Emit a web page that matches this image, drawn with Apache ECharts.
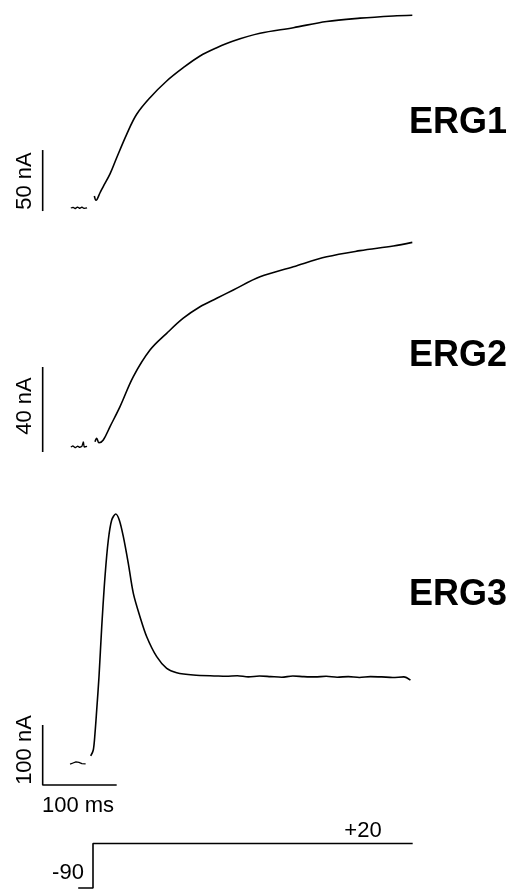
<!DOCTYPE html>
<html>
<head>
<meta charset="utf-8">
<script src="https://cdn.jsdelivr.net/npm/echarts@6/dist/echarts.min.js"></script>
<style>
    html, body { margin: 0; padding: 0; background: #fff; }
    #chart { width: 520px; height: 890px; }
</style>
</head>
<body>
<div id="chart"></div>
<script>
// time in ms (step onset = 0), current in nA, voltage in mV
var erg1BaseT = [-30, -27, -24, -21, -18, -15, -12, -8];
var erg1BaseI = [0, 0.6, -0.5, 0.8, -0.3, 0.7, -0.4, 0.2];
var erg1T = [1.8, 4.1, 9.5, 13.5, 23, 32, 45.5, 59, 77, 99.6, 122, 144.6, 167.2, 189.6, 225.7, 270.7, 315.8, 360.8, 405.8, 431.5];
var erg1I = [9.8, 6.3, 12.5, 17.2, 27.9, 41.2, 60.4, 76.8, 90.4, 104.1, 115, 124.6, 131.4, 136.9, 143.2, 147.8, 152.9, 155.6, 157.4, 158];

var erg2BaseT = [-30, -27, -24, -21, -18, -15, -13, -12, -8];
var erg2BaseI = [0, 0.5, -0.4, 0.4, -0.2, 0.3, 2.5, 0, 0.3];
var erg2T = [2.7, 5, 8.1, 13.9, 23, 36.5, 54.5, 77, 99.6, 122, 144.6, 167.2, 189.6, 225.7, 270.7, 315.8, 360.8, 405.8, 431.5];
var erg2I = [2.5, 4.1, 2.0, 3.3, 9.6, 19, 33.1, 45.6, 53.5, 60.6, 66, 70, 73.9, 80.1, 84.8, 89.5, 92.4, 94.6, 96.3];

var erg3BaseT = [-31, -27, -23, -19, -15, -10];
var erg3BaseI = [-2, 0, 2, 1, -1, -1.5];
var erg3T = [-3.1, 0.4, 2.7, 5, 8.1, 11.8, 16.2, 20.7, 25.3, 30.7, 35.5, 41, 47.7, 54.5, 63.5, 72.6, 86.1, 99.6, 113.1, 135.5, 167.2,
    180, 195, 210, 225, 240, 255, 270, 285, 300, 315, 330, 345, 360, 375, 390, 405, 420, 429];
var erg3I = [11.7, 21.7, 49.5, 88.3, 143.8, 227.2, 310.5, 371.7, 405, 415, 405, 377.2, 332.8, 282.8, 243.8, 210.5, 177.2, 157.8, 150.5, 146.7, 145,
    144.5, 145.5, 143.5, 145, 144, 143, 145, 144, 143.5, 144.5, 143, 144, 142.5, 144, 143.5, 142.5, 143.5, 138];

var stepT = [-20, 0, 0, 432];
var stepV = [-90, -90, 20, 20];

var panelNames = ['ERG1', 'ERG2', 'ERG3'];
var scaleNA = [50, 40, 100];
var scaleFloorNA = [-2.5, -2.4, -36.7];
var scaleMs = 100;
var scaleT0 = -68;

var zip = function(t, v) {
    var out = [];
    for (var i = 0; i < t.length; i++) {
        out.push([t[i], v[i]]);
    }
    return out;
};

var line = function(idx, data, w, smooth) {
    return {
        type: 'line',
        xAxisIndex: idx,
        yAxisIndex: idx,
        data: data,
        symbol: 'none',
        smooth: smooth || false,
        silent: true,
        lineStyle: { color: '#000', width: w || 1.6 }
    };
};

var scaleBar = function(i) {
    return [[scaleT0, scaleFloorNA[i]], [scaleT0, scaleFloorNA[i] + scaleNA[i]]];
};

var gridLeft = 41.2, gridWidth = 377.4;
var grids = [
    { top: 0.6, height: 219.6 },
    { top: 234.5, height: 233.75 },
    { top: 505, height: 288 },
    { top: 839.5, height: 50.56 }
];
var yRanges = [[-10, 170], [-10, 100], [-50, 430], [-95, 30]];

var xAxes = [], yAxes = [];
for (var g = 0; g < grids.length; g++) {
    grids[g].left = gridLeft;
    grids[g].width = gridWidth;
    xAxes.push({ type: 'value', gridIndex: g, min: -70, max: 440, show: false });
    yAxes.push({ type: 'value', gridIndex: g, min: yRanges[g][0], max: yRanges[g][1], show: false });
}

var series = [
    line(0, zip(erg1BaseT, erg1BaseI), 1.3),
    line(0, zip(erg1T, erg1I), 1.6, 0.35),
    line(0, scaleBar(0)),
    line(1, zip(erg2BaseT, erg2BaseI), 1.3),
    line(1, zip(erg2T, erg2I), 1.6, 0.35),
    line(1, scaleBar(1)),
    line(2, zip(erg3BaseT, erg3BaseI), 1.3),
    line(2, zip(erg3T, erg3I), 1.6, 0.3),
    line(2, scaleBar(2).reverse().concat([[scaleT0 + scaleMs, scaleFloorNA[2]]])),
    line(3, zip(stepT, stepV))
];

var txt = function(x, y, s, opt) {
    opt = opt || {};
    return {
        type: 'text',
        x: x,
        y: y,
        rotation: opt.rotation || 0,
        silent: true,
        style: {
            text: s,
            fill: '#000',
            font: (opt.bold ? 'bold ' : '') + (opt.size || 22) + 'px "Liberation Sans", Arial, sans-serif',
            align: opt.align || 'center',
            verticalAlign: 'middle'
        }
    };
};

var graphics = [
    txt(409, 123, panelNames[0], { bold: true, size: 36, align: 'left' }),
    txt(409, 356, panelNames[1], { bold: true, size: 36, align: 'left' }),
    txt(409, 595, panelNames[2], { bold: true, size: 36, align: 'left' }),
    txt(25, 181, scaleNA[0] + ' nA', { rotation: Math.PI / 2 }),
    txt(25, 406, scaleNA[1] + ' nA', { rotation: Math.PI / 2 }),
    txt(25, 750, scaleNA[2] + ' nA', { rotation: Math.PI / 2 }),
    txt(78, 806, scaleMs + ' ms'),
    txt(363, 831, '+' + stepV[2]),
    txt(68, 873, String(stepV[0]))
];

var myChart = echarts.init(document.getElementById('chart'));
myChart.setOption({
    animation: false,
    backgroundColor: '#fff',
    grid: grids,
    xAxis: xAxes,
    yAxis: yAxes,
    series: series,
    graphic: graphics
});
</script>
</body>
</html>
